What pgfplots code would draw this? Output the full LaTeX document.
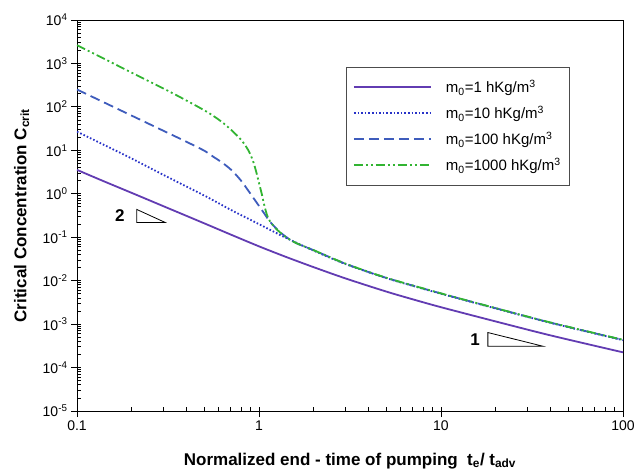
\documentclass[border=0pt]{standalone}
\usepackage{fontspec}
\setmainfont{Liberation Sans}
\usepackage{pgfplots}
\pgfplotsset{compat=1.18}
\definecolor{cpurple}{RGB}{98,60,178}
\definecolor{cdot}{RGB}{40,50,200}
\definecolor{cdash}{RGB}{62,92,188}
\definecolor{cgreen}{RGB}{50,180,50}
\begin{document}
\begin{tikzpicture}
\useasboundingbox (-77bp,-64bp) rectangle (559bp,411bp);
\begin{axis}[
  at={(0,0)}, anchor=south west,
  scale only axis, width=546bp, height=391bp,
  xmode=log, ymode=log,
  xmin=0.1, xmax=100, ymin=1e-5, ymax=1e4,
  /pgf/number format/assume math mode=true,
  xtick={0.1,1,10,100}, xticklabels={0.1,1,10,100},
  log number format basis/.code 2 args={#1\textsuperscript{\pgfmathprintnumber{#2}}},
  tick label style={font=\fontsize{14bp}{16bp}\selectfont},
  tick pos=left,
  tick align=outside,
  major tick length=6bp, minor tick length=-4bp,
  every tick/.style={black, line width=0.8bp},
  axis line style={line width=0.9bp},
  xlabel={Normalized end - time of pumping\ \ t\textsubscript{e}/ t\textsubscript{adv}},
  ylabel={Critical Concentration C\textsubscript{crit}},
  label style={font=\fontsize{17bp}{20bp}\selectfont\bfseries},
  xlabel style={at={(axis description cs:0.5,0)}, anchor=base, yshift=-54bp},
  ylabel style={at={(axis description cs:-0.0925,0.5)}, anchor=base},
  legend style={at={(axis description cs:0.492,0.88)}, anchor=north west,
    draw=black!70, line width=0.8bp, font=\fontsize{15bp}{18bp}\selectfont,
    row sep=8bp, inner xsep=7bp, inner ysep=11bp},
  legend cell align=left,
  legend image code/.code={\draw[#1] (0bp,0bp) -- (77bp,0bp); \path[draw=none] (0bp,0bp) -- (90bp,0bp);},
]
\addplot[cpurple, line width=1.8bp, smooth] coordinates {
(0.1,3.55) (0.14,1.95) (0.2,1.047) (0.3,0.513) (0.5,0.209) (0.7,0.115) (1,0.0617) (1.4,0.0355) (2,0.0204) (3,0.0112) (5,0.00562) (7,0.00372) (10,0.00245) (20,0.00115) (40,5.5e-4) (100,2.24e-4)
};
\addlegendentry{m\textsubscript{0}=1 hKg/m\textsuperscript{3}}
\addplot[cdot, line width=1.8bp, dash pattern=on 1.6bp off 2bp, smooth] coordinates {
(0.1,26.9) (0.14,13.5) (0.2,6.46) (0.3,2.69) (0.5,0.912) (0.7,0.427) (1,0.20) (1.4,0.0977) (2,0.049) (3,0.024) (5,0.0115) (7,0.0076) (10,0.0050) (20,0.00229) (40,0.00107) (100,4.27e-4)
};
\addlegendentry{m\textsubscript{0}=10 hKg/m\textsuperscript{3}}
\addplot[cdash, line width=1.8bp, dash pattern=on 10bp off 5bp, smooth] coordinates {
(0.1,251.2) (0.1259,158.5) (0.1585,100) (0.1995,63.1) (0.2512,39.8) (0.3162,25.1) (0.3981,15.85) (0.5012,9.77) (0.5623,7.08) (0.631,5.13) (0.7079,3.47) (0.7943,2.04) (0.8913,1.047) (1,0.525) (1.0715,0.347) (1.1482,0.229) (1.2589,0.151) (1.4,0.1035) (1.6,0.0733) (2,0.0501) (3,0.0243) (5,0.0116) (10,0.00507) (20,0.00232) (40,0.00108) (100,4.32e-4)
};
\addlegendentry{m\textsubscript{0}=100 hKg/m\textsuperscript{3}}
\addplot[cgreen, line width=1.8bp, dash pattern=on 9bp off 3bp on 2bp off 3bp on 2bp off 3bp, smooth] coordinates {
(0.1,2630) (0.1259,1622) (0.1585,1000) (0.1995,616.6) (0.2512,380.2) (0.3162,234.4) (0.3981,141.3) (0.5012,83.2) (0.5623,61.7) (0.631,43.65) (0.7079,28.84) (0.7943,17.78) (0.8511,12.02) (0.8913,8.51) (0.9333,5.25) (0.9661,3.162) (1,1.778) (1.0351,1.0) (1.0715,0.525) (1.1092,0.316) (1.1482,0.234) (1.2023,0.182) (1.2589,0.148) (1.4,0.102) (1.6,0.0735) (2,0.0502) (3,0.0245) (5,0.0117) (10,0.0051) (20,0.00233) (40,0.00109) (100,4.35e-4)
};
\addlegendentry{m\textsubscript{0}=1000 hKg/m\textsuperscript{3}}
\draw[black, line width=0.8bp] (axis cs:0.213,0.436) -- (axis cs:0.213,0.219) -- (axis cs:0.305,0.219) -- cycle;
\node[font=\fontsize{17bp}{20bp}\selectfont\bfseries] at (axis cs:0.172,0.32) {2};
\draw[black, line width=0.8bp] (axis cs:18.1,6.4e-4) -- (axis cs:18.1,3.1e-4) -- (axis cs:36.3,3.1e-4) -- cycle;
\node[font=\fontsize{17bp}{20bp}\selectfont\bfseries] at (axis cs:15.4,4.5e-4) {1};
\end{axis}
\end{tikzpicture}
\end{document}
